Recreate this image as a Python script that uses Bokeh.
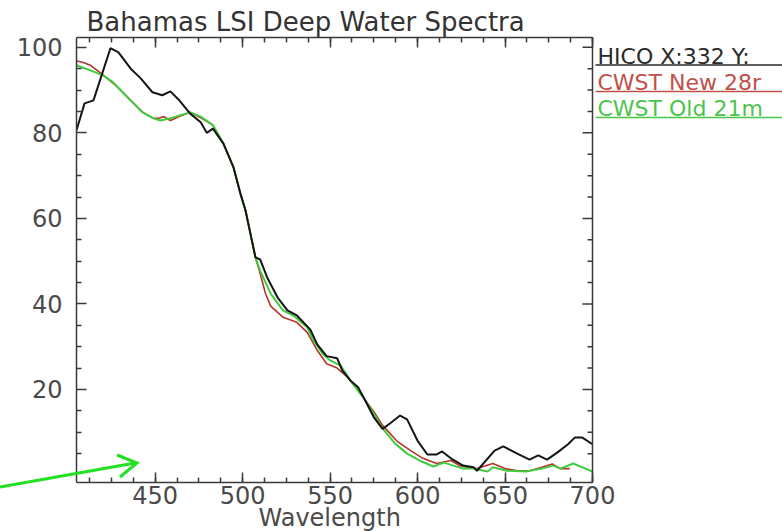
import math
from bokeh.plotting import figure
from bokeh.models import (LinearAxis, FixedTicker, SingleIntervalTicker, Range1d,
                          Title, Span, Div, GridBox)
from bokeh.core.properties import value
from bokeh.embed import file_html
from bokeh.resources import INLINE

# ---------------- data ----------------
hico_wl = [405, 409.6, 414.7, 424.4, 429, 436, 441.6, 448.4, 454, 458.7, 464, 470,
           476, 479.5, 483, 489, 494.7, 498.7, 501.6, 504.4, 507.3, 510, 514, 520,
           525.6, 531, 538.7, 542.7, 548, 554, 557, 561.6, 566, 570, 575, 580, 584,
           590, 594, 600, 605.6, 611, 614, 619, 626, 632, 634, 644, 649, 657, 664,
           669, 674, 680, 686, 690, 694, 700]
hico_val = [80.6, 86.9, 87.6, 99.8, 98.8, 95.0, 92.8, 89.5, 88.8, 89.7, 87.5, 84.5,
            82.5, 80.0, 81.0, 77.5, 72.0, 65.8, 61.9, 56.5, 50.9, 50.4, 46.2, 41.5,
            38.5, 37.3, 34.0, 30.5, 27.8, 27.3, 24.4, 22.1, 20.5, 17.5, 13.5, 10.8, 12.0,
            13.9, 13.0, 8.0, 4.8, 4.8, 5.5, 3.9, 2.2, 1.8, 1.0, 5.7, 6.7, 5.0, 3.6,
            4.6, 3.6, 5.3, 7.2, 8.8, 8.8, 7.2]

new_wl = [405, 408.4, 413, 420, 426, 432, 436, 443, 449, 452, 455, 458.7, 464, 470,
          476, 483, 489, 494.7, 498.7, 501.6, 504.4, 507.3, 510, 513, 516, 523, 531,
          537, 542.7, 548, 554, 560, 569, 575, 580, 588, 596, 603, 611, 619, 624,
          634, 643, 650, 657, 664, 671, 677, 681.6, 687]
new_val = [96.8, 96.5, 95.8, 93.6, 91.6, 89.3, 87.6, 84.8, 83.4, 83.4, 83.8, 82.9,
           83.9, 84.8, 83.5, 81.8, 77.5, 72.0, 65.8, 61.9, 56.5, 50.9, 47.1, 42.5,
           39.5, 36.9, 35.7, 33.3, 29.1, 26.0, 25.0, 22.9, 18.1, 14.8, 11.6, 8.0, 5.7,
           3.9, 2.7, 3.4, 2.2, 1.5, 2.7, 1.5, 1.0, 1.0, 1.8, 2.6, 1.5, 1.5]

old_wl = [405, 413, 420.4, 426, 432, 437.6, 442.7, 449, 453, 458.7, 464, 470, 476,
          483, 489, 494.7, 498.7, 501.6, 504.4, 507.3, 510, 516, 523, 529, 537,
          540.4, 545.6, 550, 556, 561.6, 569, 575, 580, 587, 594, 601, 609, 615,
          626, 632, 640, 643, 651, 662, 671, 677.6, 681.6, 689, 700]
old_val = [95.8, 94.6, 93.4, 91.8, 89.2, 86.9, 84.8, 83.4, 82.9, 83.4, 84.1, 84.8,
           83.8, 81.8, 77.5, 72.0, 65.8, 61.9, 56.5, 50.9, 47.8, 42.4, 38.5, 37.3,
           34.5, 31.5, 28.4, 26.8, 25.6, 22.1, 18.1, 14.3, 10.9, 7.4, 5.0, 3.4, 2.0,
           2.9, 1.5, 1.5, 0.8, 1.8, 1.0, 0.8, 1.5, 2.2, 1.5, 2.7, 0.8]

series_names = ["HICO X:332 Y:", "CWST New 28r", "CWST Old 21m"]
x_lo, x_hi = 405, 700
y_lo, y_hi = -1.75, 102.3
y_major = [20, 40, 60, 80, 100]
y_minor = [5, 10, 15, 25, 30, 35, 45, 50, 55, 65, 70, 75, 85, 90, 95]

# ---------------- styling ----------------
FONT = "DejaVu Sans"
AXIS_COL = "#3a3a3a"
TXT_COL = "#4a4a4a"
BLACK = "#151515"
RED = "#b5352a"
GREEN = "#3fcc3f"
LEG_TXT = ["#2a2a2a", "#c0504a", "#4cc44c"]
ARROW_GREEN = "#22e022"

W, H = 782, 531
ML, MT, MB = 76, 37, 49
AXIS_PX = 516                          # pixel length of the wavelength axis (405..700)
px_per_nm = AXIS_PX / (x_hi - x_lo)
x_view_end = x_lo + (W - ML) / px_per_nm   # frame extends to the page edge (legend area)
px_per_val = (H - MT - MB) / (y_hi - y_lo)

p = figure(width=W, height=H, output_backend="svg", toolbar_location=None,
           x_range=Range1d(x_lo, x_view_end), y_range=Range1d(y_lo, y_hi),
           min_border_left=ML, min_border_right=0, min_border_top=MT,
           min_border_bottom=MB, x_axis_type=None, y_axis_type=None)
p.background_fill_color = "white"
p.border_fill_color = "white"
p.outline_line_color = None
p.xgrid.visible = False
p.ygrid.visible = False

def style_axis(ax, show_labels):
    ax.axis_line_color = AXIS_COL
    ax.axis_line_width = 1.5
    ax.major_tick_line_color = AXIS_COL
    ax.minor_tick_line_color = AXIS_COL
    ax.major_tick_line_width = 1.5
    ax.minor_tick_line_width = 1.5
    ax.major_tick_in = 10
    ax.major_tick_out = 0
    ax.minor_tick_in = 5
    ax.minor_tick_out = 0
    ax.major_label_text_font = FONT
    if show_labels:
        ax.major_label_text_font_size = "24px"
        ax.major_label_text_color = TXT_COL
    else:
        ax.major_label_text_font_size = "1px"
        ax.major_label_text_color = None
        ax.major_label_standoff = 0

xb = LinearAxis(ticker=SingleIntervalTicker(interval=50, num_minor_ticks=4),
                bounds=(x_lo, x_hi))
style_axis(xb, True)
xb.major_label_standoff = 3
p.add_layout(xb, "below")

# axis title placed under the wavelength axis (left-aligned with an offset so
# that it is centred under 405..700 rather than under the wider frame)
p.add_layout(Title(text="Wavelength", text_font=FONT, text_font_size="24px",
                   text_font_style="normal", text_color=TXT_COL, align="left",
                   offset=182, standoff=-10, vertical_align="bottom"), "below")

xt = LinearAxis(ticker=SingleIntervalTicker(interval=50, num_minor_ticks=4),
                bounds=(x_lo, x_hi))
style_axis(xt, False)
p.add_layout(xt, "above")

yl = LinearAxis(ticker=FixedTicker(ticks=y_major, minor_ticks=y_minor))
style_axis(yl, True)
yl.major_label_standoff = 14
p.add_layout(yl, "left")

# right-hand frame edge at 700 nm with inward ticks
p.add_layout(Span(location=x_hi, dimension="height", line_color=AXIS_COL,
                  line_width=1.5))
p.ray(x=[x_hi] * len(y_major), y=y_major, length=10, length_units="screen",
      angle=math.pi, line_color=AXIS_COL, line_width=1.5)
p.ray(x=[x_hi] * len(y_minor), y=y_minor, length=5, length_units="screen",
      angle=math.pi, line_color=AXIS_COL, line_width=1.5)

p.add_layout(Title(text="Bahamas LSI Deep Water Spectra", text_font=FONT,
                   text_font_size="26px", text_font_style="normal",
                   text_color="#333333", align="left", offset=10, standoff=2),
             "above")

# ---------------- spectra ----------------
p.line(new_wl, new_val, line_color=RED, line_width=1.6)
p.line(old_wl, old_val, line_color=GREEN, line_width=2.0)
p.line(hico_wl, hico_val, line_color=BLACK, line_width=2.0)

# ---------------- legend to the right of the frame (IDL style, underlined) ----------
def nm_at(px):
    return x_lo + (px - ML) / px_per_nm

def val_at(py):
    return y_hi - (py - MT) / px_per_val

leg_base_y = [val_at(v) for v in (56, 82, 108)]
leg_line_y = [val_at(v) for v in (64.5, 91, 117)]
p.text(x=[nm_at(597)] * 3, y=leg_base_y, text=series_names, text_color=LEG_TXT,
       text_font=value(FONT), text_font_size="22px", text_baseline="alphabetic",
       text_align="left")
p.segment(x0=[nm_at(595)] * 3, y0=leg_line_y, x1=[x_view_end] * 3, y1=leg_line_y,
          line_color=LEG_TXT, line_width=1.5)

# ---------------- green pointer arrow (annotation over the page) ----------------
arrow_svg = (
    '<svg xmlns="http://www.w3.org/2000/svg" width="%d" height="%d" '
    'style="display:block;pointer-events:none">'
    '<line x1="0" y1="487" x2="135" y2="463" stroke="%s" stroke-width="3"/>'
    '<polyline points="117,455 137,463 120,477" fill="none" stroke="%s" '
    'stroke-width="3"/></svg>' % (W, H, ARROW_GREEN, ARROW_GREEN)
)
overlay = Div(text=arrow_svg, width=W, height=H,
              styles={"pointer-events": "none", "margin": "0", "padding": "0"})

layout = GridBox(children=[(p, 0, 0), (overlay, 0, 0)])
open("out.html", "w").write(file_html(layout, INLINE))
